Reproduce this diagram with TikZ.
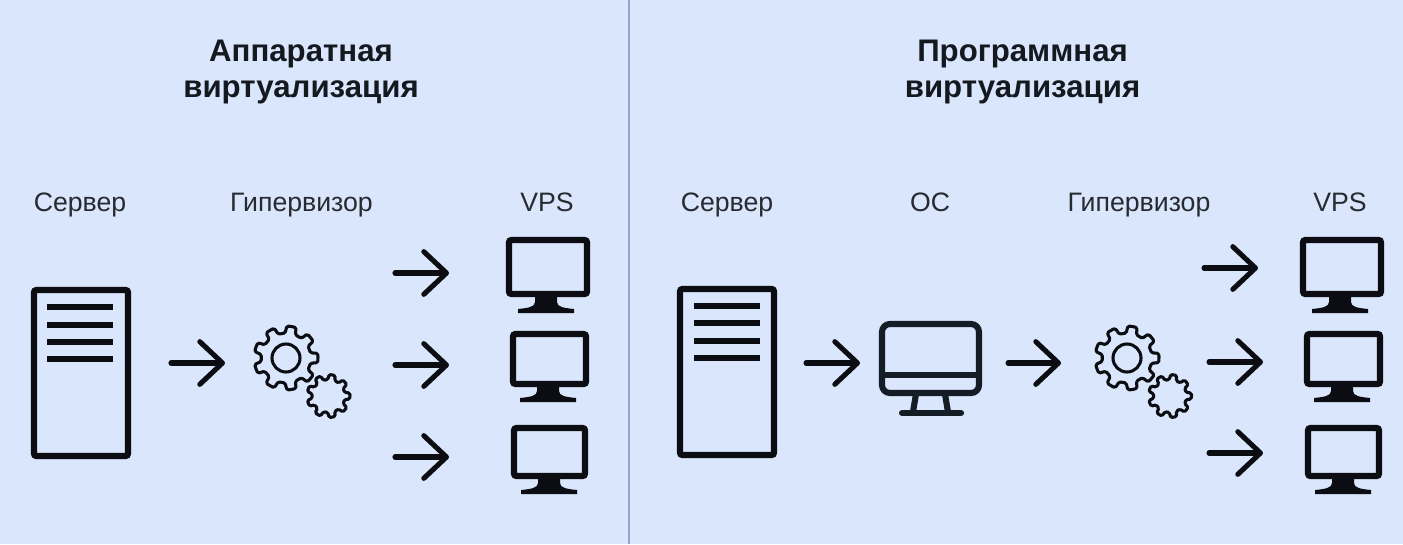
\documentclass[tikz,border=0pt]{standalone}
\usepackage{fontspec}
\setmainfont{Liberation Sans}
\usetikzlibrary{arrows.meta,calc}
\definecolor{bgblue}{HTML}{D9E6FB}
\definecolor{rulecol}{HTML}{8FA8CC}
\definecolor{ink}{HTML}{0B0D12}
\definecolor{oscol}{HTML}{141C26}
\definecolor{titlecol}{HTML}{14181F}
\definecolor{labelcol}{HTML}{262A31}
\tikzset{
  x=0.75pt,y=-0.75pt,
  headline/.style={font=\fontsize{23.4pt}{27pt}\selectfont\bfseries,text=titlecol,align=center,anchor=base,inner sep=0pt},
  caption/.style={font=\fontsize{20pt}{24pt}\selectfont,text=labelcol,anchor=base,inner sep=0pt},
  arr/.style={draw=ink,line width=3.8pt,line cap=round,-{Straight Barb[length=17pt,width=32pt,round]}},
  bar/.style={draw=ink,line width=4.8pt},
  box/.style={draw=ink,line width=4.8pt,rounded corners=2pt,inner sep=0pt,outer sep=0pt,fill=none},
  gearline/.style={draw=ink,line width=2.3pt,line join=round},
  osline/.style={draw=oscol,line width=4.6pt,line cap=round},
}
\newcommand{\screen}[5]{%
  \node[box,minimum width={(#3-#2-6)*0.75pt},minimum height={(#5-#4-6)*0.75pt}] (#1) at ({(#2+#3)/2},{(#4+#5)/2}) {};}
\newcommand{\foot}[3]{% centre, screen bottom, base bottom
  \fill[ink] (#1-11,#2-1) -- (#1-11,#3-11) .. controls (#1-11,#3-6) and (#1-18,#3-5) .. (#1-28,#3-4)
    -- (#1-28,#3) -- (#1+28,#3) -- (#1+28,#3-4) .. controls (#1+18,#3-5) and (#1+11,#3-6) .. (#1+11,#3-11) -- (#1+11,#2-1) -- cycle;}
\newcommand{\gearshape}[5]{% x,y,outer,root,teeth
  \pgfmathsetmacro{\stepang}{360/#5}
  \draw[gearline,rounded corners=1.1pt] (#1,#2) ++(0:#3)
    \foreach \k in {1,...,#5}{
      -- ($(#1,#2)+({(\k-1)*\stepang+0.21*\stepang}:#3)$)
      -- ($(#1,#2)+({(\k-1)*\stepang+0.30*\stepang}:#4)$)
      -- ($(#1,#2)+({(\k-1)*\stepang+0.70*\stepang}:#4)$)
      -- ($(#1,#2)+({(\k-1)*\stepang+0.79*\stepang}:#3)$)
      -- ($(#1,#2)+({\k*\stepang}:#3)$)
    } -- cycle;}
\newcommand{\arrowfrom}[4]{%
  \coordinate (#1s) at (#2,#4); \coordinate (#1e) at (#3,#4);
  \draw[arr] (#1s) -- (#1e);}
\begin{document}
\begin{tikzpicture}
\useasboundingbox (0,0) rectangle (1403,544);
\fill[bgblue] (0,0) rectangle (1403,544);
\coordinate (ruleT) at (629,0); \coordinate (ruleB) at (629,544);
\draw[rulecol,line width=1.5pt] (ruleT) -- (ruleB);

% titles
\node[headline] (t1) at (301,97) {Аппаратная\\виртуализация};
\node[headline] (t2) at (1022.5,97) {Программная\\виртуализация};

% captions
\node[caption] (c1) at (80,211) {Сервер};
\node[caption] (c2) at (301.5,211) {Гипервизор};
\node[caption] (c3) at (547,211) {VPS};
\node[caption] (c4) at (727,211) {Сервер};
\node[caption] (c5) at (930,211) {ОС};
\node[caption] (c6) at (1139,211) {Гипервизор};
\node[caption] (c7) at (1340,211) {VPS};

% servers
\screen{srvL}{31}{131}{287}{459}
\foreach \yy in {307,325,342,359}{\draw[bar] (47,\yy) -- (113,\yy);}
\screen{srvR}{677}{777}{286}{458}
\foreach \yy in {306,323,341,358}{\draw[bar] (694,\yy) -- (760,\yy);}

% left VPS
\screen{ml1}{506}{590}{237}{297}\foot{546}{297}{313}
\screen{ml2}{510}{589}{331}{387}\foot{548}{387}{402}
\screen{ml3}{511}{588}{425}{479}\foot{549}{479}{494}
% right VPS
\screen{mr1}{1300}{1384}{237}{297}\foot{1340}{297}{313}
\screen{mr2}{1304}{1383}{331}{387}\foot{1342}{387}{402}
\screen{mr3}{1305}{1382}{425}{479}\foot{1343}{479}{494}

% OS monitor
\node[draw=oscol,line width=4.6pt,rounded corners=6pt,minimum width={97*0.75pt},minimum height={69*0.75pt},inner sep=0pt,outer sep=0pt] (os) at (930.5,358.5) {};
\draw[osline,line cap=butt] (os.west |- 0,375) -- (os.east |- 0,375);
\draw[osline,line cap=butt] (916,394) -- (913,412);
\draw[osline,line cap=butt] (945,394) -- (948,412);
\coordinate (osbl) at (902,413); \coordinate (osbr) at (961,413);
\draw[osline] (osbl) -- (osbr);

% gears
\gearshape{286}{358}{32}{25}{9}
\draw[gearline] (286,358) circle[radius=14];
\gearshape{328.5}{396}{21.5}{16.5}{9}
\gearshape{1127}{358}{32}{25}{9}
\draw[gearline] (1127,358) circle[radius=14];
\gearshape{1170}{396}{21.5}{16.5}{9}

% arrows
\arrowfrom{a1}{171}{225}{363}
\arrowfrom{a2}{395}{449}{273}
\arrowfrom{a3}{395}{449}{365}
\arrowfrom{a4}{395}{449}{457}
\arrowfrom{a5}{806}{860}{363}
\arrowfrom{a6}{1008}{1061}{363}
\arrowfrom{a7}{1204}{1258}{268}
\arrowfrom{a8}{1209}{1263}{362}
\arrowfrom{a9}{1209}{1263}{453}
\end{tikzpicture}
\end{document}
